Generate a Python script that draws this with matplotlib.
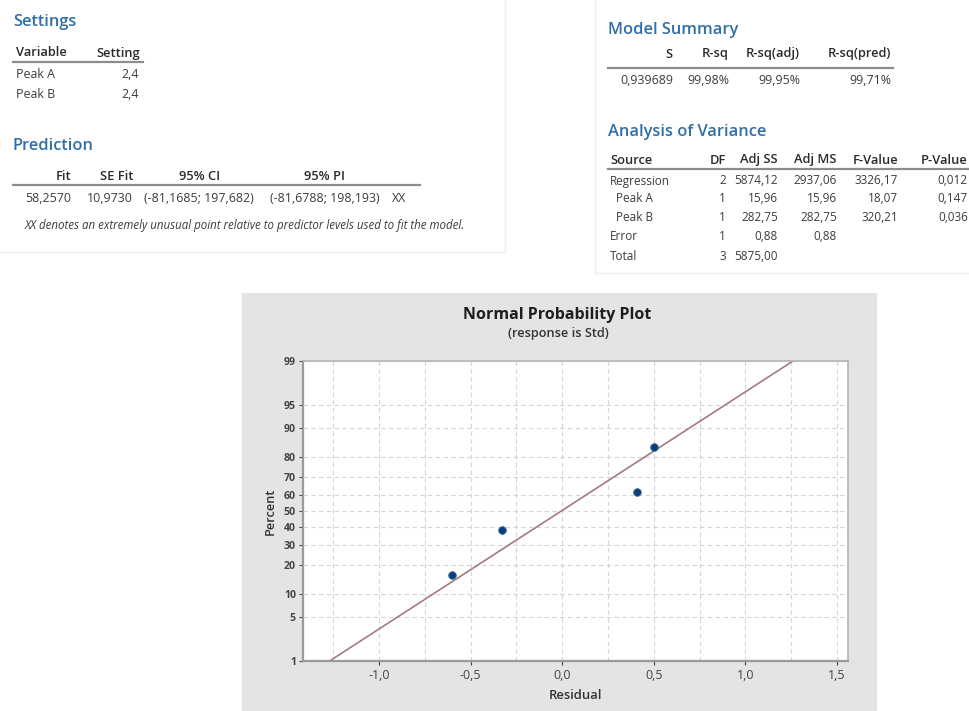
import numpy as np
import matplotlib
matplotlib.use("Agg")
import matplotlib.pyplot as plt
from matplotlib.lines import Line2D
from matplotlib.patches import Rectangle
from matplotlib.ticker import MultipleLocator, FuncFormatter, FixedLocator
from statistics import NormalDist

plt.rcParams['font.family'] = ['Open Sans', 'DejaVu Sans']

# Regression output tables
settings_vars = ["Peak A", "Peak B"]
settings_vals = ["2,4", "2,4"]

pred_headers = ["Fit", "SE Fit", "95% CI", "95% PI"]
pred_row = ["58,2570", "10,9730", "(-81,1685; 197,682)", "(-81,6788; 198,193)", "XX"]
pred_note = "XX denotes an extremely unusual point relative to predictor levels used to fit the model."

summary_headers = ["S", "R-sq", "R-sq(adj)", "R-sq(pred)"]
summary_row = ["0,939689", "99,98%", "99,95%", "99,71%"]

anova_headers = ["Source", "DF", "Adj SS", "Adj MS", "F-Value", "P-Value"]
anova_rows = [
    ["Regression", "2", "5874,12", "2937,06", "3326,17", "0,012"],
    ["  Peak A", "1", "15,96", "15,96", "18,07", "0,147"],
    ["  Peak B", "1", "282,75", "282,75", "320,21", "0,036"],
    ["Error", "1", "0,88", "0,88", "", ""],
    ["Total", "3", "5875,00", "", "", ""],
]

# Residuals for the normal probability plot
residuals = [-0.60, -0.33, 0.41, 0.50]
pct_ticks = [1, 5, 10, 20, 30, 40, 50, 60, 70, 80, 90, 95, 99]

W, H = 970, 711
fig = plt.figure(figsize=(W / 100, H / 100), dpi=100)
fig.patch.set_facecolor("white")

BLUE = "#2f6ea6"
TXT = "#3c3c3c"
HDR = "#2a2a2a"
FS = 8.9      # table body
FS_H = 9.3    # table headers
FS_T = 11.8   # section titles


def put(x, y, s, **kw):
    kw.setdefault("va", "center")
    kw.setdefault("color", TXT)
    kw.setdefault("fontsize", FS)
    return fig.text(x / W, 1 - y / H, s, **kw)


def head(x, y, s, **kw):
    return put(x, y, s, color=HDR, fontweight="semibold", fontsize=FS_H, **kw)


def title(x, y, s):
    return put(x, y, s, color=BLUE, fontsize=FS_T, fontweight="semibold")


def hline(x0, x1, y, color="#8c8c8c", lw=1.6):
    fig.add_artist(Line2D([x0 / W, x1 / W], [1 - y / H, 1 - y / H],
                          color=color, lw=lw, transform=fig.transFigure))


def vline(x, y0, y1, color="#efefef", lw=1.0):
    fig.add_artist(Line2D([x / W, x / W], [1 - y0 / H, 1 - y1 / H],
                          color=color, lw=lw, transform=fig.transFigure))


# faint frames around the output blocks
vline(505, 0, 252)
hline(0, 505, 252, color="#f1f1f1", lw=1.0)
vline(595, 0, 273)
hline(595, 970, 273, color="#f1f1f1", lw=1.0)

# Settings
title(13, 22, "Settings")
head(16, 53, "Variable")
head(140, 53, "Setting", ha="right")
hline(13, 143, 62)
for i, (v, s) in enumerate(zip(settings_vars, settings_vals)):
    put(16, 74 + 20 * i, v)
    put(139, 74 + 20 * i, s, ha="right")

# Prediction
title(13, 146, "Prediction")
pred_hx = [(71, "right"), (133, "right"), (200, "center"), (325, "center")]
for (x, ha), h in zip(pred_hx, pred_headers):
    head(x, 176, h, ha=ha)
hline(13, 420, 185)
pred_x = [(71, "right"), (133, "right"), (199, "center"), (325, "center"), (392, "left")]
for (x, ha), v in zip(pred_x, pred_row):
    put(x, 198, v, ha=ha)
put(25, 225, pred_note, fontsize=8.3, style="italic")

# Model Summary
title(608, 30, "Model Summary")
sum_x = [673, 729, 800, 891]
for x, h in zip(sum_x, summary_headers):
    head(x, 54, h, ha="right")
hline(608, 893, 68)
for x, v in zip(sum_x, summary_row):
    put(x, 80, v, ha="right")

# Analysis of Variance
title(608, 132, "Analysis of Variance")
anova_x = [610, 726, 778, 837, 898, 968]
for j, h in enumerate(anova_headers):
    head(anova_x[j], 160, h, ha="left" if j == 0 else "right")
hline(608, 970, 169)
row_y = [181, 199, 218, 237, 256]
for y, row in zip(row_y, anova_rows):
    for j, v in enumerate(row):
        put(anova_x[j], y, v, ha="left" if j == 0 else "right", fontsize=8.5)

# Grey panel behind the probability plot
fig.add_artist(Rectangle((242 / W, 0), (877 - 242) / W, 1 - 293 / H,
                         transform=fig.transFigure, facecolor="#e4e4e4",
                         edgecolor="none", zorder=0))

nd = NormalDist()
_inv = np.vectorize(nd.inv_cdf, otypes=[float])
_cdf = np.vectorize(nd.cdf, otypes=[float])


def to_z(p):
    p = np.clip(np.asarray(p, dtype=float) / 100.0, 1e-9, 1 - 1e-9)
    return _inv(p)


def from_z(z):
    return _cdf(np.asarray(z, dtype=float)) * 100.0


ax = fig.add_axes([303 / W, 1 - 661 / H, (848 - 303) / W, (661 - 361) / H])
ax.set_facecolor("white")
ax.set_yscale("function", functions=(to_z, from_z))
ax.set_ylim(1, 99)
ax.set_xlim(-1.415, 1.56)

# plotting positions and fitted normal line
res = np.sort(np.array(residuals))
n = len(res)
pct = (np.arange(1, n + 1) - 0.3) / (n + 0.4) * 100
mu, sd = res.mean(), res.std(ddof=1)
p_line = np.array([1, 99])
x_line = mu + sd * to_z(p_line)

ax.yaxis.set_major_locator(FixedLocator(pct_ticks))
ax.yaxis.set_minor_locator(FixedLocator([]))
ax.yaxis.set_major_formatter(FuncFormatter(lambda v, _: f"{v:g}"))
ax.xaxis.set_major_locator(MultipleLocator(0.5))
ax.xaxis.set_minor_locator(MultipleLocator(0.25))
ax.xaxis.set_major_formatter(FuncFormatter(lambda v, _: f"{v:.1f}".replace(".", ",").replace("-0,0", "0,0")))

ax.grid(True, which="both", axis="x", color="#d4d4d4", ls=(0, (4, 3)), lw=0.8)
ax.grid(True, which="major", axis="y", color="#d4d4d4", ls=(0, (4, 3)), lw=0.8)
ax.set_axisbelow(True)

ax.plot(x_line, p_line, color="#a47a80", lw=1.2, zorder=2)
ax.plot(res, pct, "o", color="#0c3d78", ms=5.5, mec="#3a6aa0", mew=0.6, zorder=3)

for s in ["left", "bottom"]:
    ax.spines[s].set_color("#9a9a9a")
    ax.spines[s].set_linewidth(1.6)
for s in ["top", "right"]:
    ax.spines[s].set_color("#b4b4b4")
    ax.spines[s].set_linewidth(1.2)

ax.tick_params(axis="y", labelsize=7.6, colors="#444444", length=3, width=0.8, pad=2)
ax.tick_params(axis="x", which="major", labelsize=9, colors="#444444", length=3, width=0.8, pad=3)
ax.tick_params(axis="x", which="minor", length=0)
for lab in ax.get_yticklabels():
    lab.set_fontweight("bold")

ax.set_xlabel("Residual", fontsize=9.4, fontweight="semibold", color="#333333", labelpad=5)
ax.set_ylabel("Percent", fontsize=9.2, fontweight="semibold", color="#333333", labelpad=5)

put(557, 315, "Normal Probability Plot", color="#1e1e1e", fontsize=11.5,
    fontweight="bold", ha="center")
put(558, 334, "(response is Std)", color="#333333", fontsize=9.2,
    fontweight="semibold", ha="center")

fig.savefig("out.png", dpi=100, facecolor="white")
